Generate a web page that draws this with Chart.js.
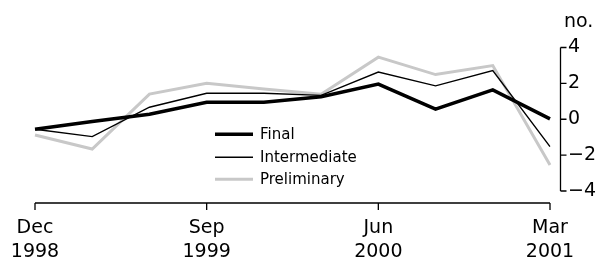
<!DOCTYPE html>
<html><head><meta charset="utf-8">
<script src="https://cdn.jsdelivr.net/npm/chart.js@4"></script>
<style>html,body{margin:0;padding:0;background:#fff}#wrap{width:598px;height:257px;position:relative}</style>
</head><body><div id="wrap"><canvas id="c"></canvas></div>
<script>
const quarters = ['Dec 1998','Mar 1999','Jun 1999','Sep 1999','Dec 1999','Mar 2000','Jun 2000','Sep 2000','Dec 2000','Mar 2001'];
const xTickIndex = [0, 3, 6, 9];
const xTickText = [['Dec','1998'], ['Sep','1999'], ['Jun','2000'], ['Mar','2001']];
const yTicks = [-4, -2, 0, 2, 4];
const yUnit = 'no.';
const finalValues = [-0.56, -0.13, 0.28, 0.95, 0.95, 1.26, 1.96, 0.56, 1.64, 0.02];
const intermediateValues = [-0.56, -0.97, 0.67, 1.45, 1.45, 1.33, 2.63, 1.86, 2.72, -1.53];
const preliminaryValues = [-0.88, -1.66, 1.40, 2.01, 1.69, 1.39, 3.46, 2.49, 2.99, -2.55];

const FONT = '"DejaVu Sans", sans-serif';

const axesPlugin = {
  id: 'customAxes',
  afterDraw(chart) {
    const ctx = chart.ctx, xs = chart.scales.x, ys = chart.scales.y;
    ctx.save();
    ctx.strokeStyle = '#000';
    ctx.lineWidth = 1.3;
    const xAxisY = chart.chartArea.bottom + 12;
    ctx.beginPath();
    ctx.moveTo(xs.getPixelForValue(0), xAxisY);
    ctx.lineTo(xs.getPixelForValue(quarters.length - 1), xAxisY);
    xTickIndex.forEach(i => {
      const px = xs.getPixelForValue(i);
      ctx.moveTo(px, xAxisY);
      ctx.lineTo(px, xAxisY + 7);
    });
    ctx.stroke();
    const yAxisX = chart.chartArea.right + 10.5;
    ctx.beginPath();
    ctx.moveTo(yAxisX, ys.getPixelForValue(yTicks[yTicks.length - 1]));
    ctx.lineTo(yAxisX, ys.getPixelForValue(yTicks[0]));
    yTicks.forEach(v => {
      const py = ys.getPixelForValue(v);
      ctx.moveTo(yAxisX, py);
      ctx.lineTo(yAxisX + 6, py);
    });
    ctx.stroke();
    ctx.fillStyle = '#000';
    ctx.font = '19px ' + FONT;
    ctx.textAlign = 'left';
    ctx.textBaseline = 'alphabetic';
    ctx.fillText(yUnit, 564, 27);
    ctx.font = '15px ' + FONT;
    ctx.textBaseline = 'middle';
    const rows = [134.3, 157.3, 179.3];
    chart.data.datasets.forEach((ds, i) => {
      ctx.beginPath();
      ctx.strokeStyle = ds.borderColor;
      ctx.lineWidth = ds.borderWidth;
      ctx.lineCap = 'butt';
      ctx.moveTo(215, rows[i]);
      ctx.lineTo(253, rows[i]);
      ctx.stroke();
      ctx.fillStyle = '#000';
      ctx.fillText(ds.label, 260, rows[i] + 0.5);
    });
    ctx.restore();
  }
};

new Chart(document.getElementById('c'), {
  type: 'line',
  data: {
    labels: quarters,
    datasets: [
      { label: 'Final', data: finalValues, borderColor: '#000000', borderWidth: 3.5 },
      { label: 'Intermediate', data: intermediateValues, borderColor: '#000000', borderWidth: 1.4 },
      { label: 'Preliminary', data: preliminaryValues, borderColor: '#c8c8c8', borderWidth: 3 }
    ]
  },
  options: {
    responsive: true,
    maintainAspectRatio: false,
    animation: false,
    elements: { point: { radius: 0 }, line: { tension: 0 } },
    layout: { padding: { left: 35, top: 47.5, right: 0, bottom: 0 } },
    plugins: { legend: { display: false }, tooltip: { enabled: false } },
    scales: {
      x: {
        type: 'category',
        offset: false,
        grid: { display: false, drawTicks: false },
        border: { display: false },
        afterFit(s) { s.height = 66; s.paddingLeft = 0; s.paddingRight = 0; },
        ticks: {
          autoSkip: false, maxRotation: 0, minRotation: 0, padding: 25,
          color: '#000', font: { family: FONT, size: 19, lineHeight: 1.25 },
          callback(v, i) { const k = xTickIndex.indexOf(i); return k >= 0 ? xTickText[k] : ''; }
        }
      },
      y: {
        position: 'right',
        min: -4, max: 4,
        afterBuildTicks(s) { s.ticks = yTicks.map(v => ({ value: v })); },
        afterFit(s) { s.width = 48; s.paddingTop = 0; s.paddingBottom = 0; },
        grid: { display: false, drawTicks: false },
        border: { display: false },
        ticks: {
          padding: 18, color: '#000', font: { family: FONT, size: 19 },
          callback(v) { return v < 0 ? '\u2212' + Math.abs(v) : String(v); }
        }
      }
    }
  },
  plugins: [axesPlugin]
});
</script>
</body></html>
